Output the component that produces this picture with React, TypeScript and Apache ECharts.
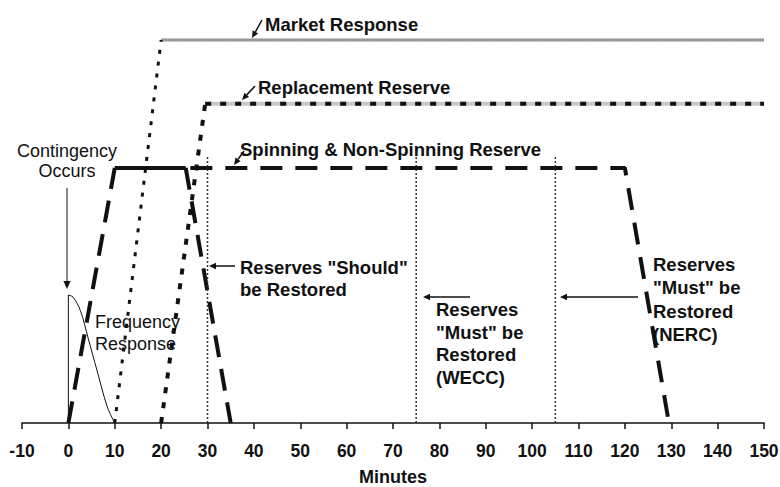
import React, { useEffect, useRef } from "react";
import * as echarts from "echarts";

// ---- data (minutes, relative level) ----
const xTicks = [-10, 0, 10, 20, 30, 40, 50, 60, 70, 80, 90, 100, 110, 120, 130, 140, 150];
const marketRise = [[10, 0], [20, 95.5]];
const marketPlateau = [[20, 95.5], [150, 95.5]];
const replacementRise = [[20, 0], [29.5, 79.6]];
const replacementPlateau = [[29.5, 79.6], [150, 79.6]];
const spinningRise = [[0, 0], [10, 63.6]];
const spinningSolid = [[10, 63.6], [25.3, 63.6]];
const spinningFall = [[25.3, 63.6], [35, 0]];
const spinningPlateau = [[26.3, 63.6], [120, 63.6], [129.5, 0]];
const freqVertical = [[0, 0], [0, 31.9]];
const freqCurve = [[0, 31.9], [1, 31.4], [2.6, 28], [4.3, 21], [6.2, 13], [8.4, 4], [10, 0]];
const restoreLines = [30, 75, 105];
const restoreTop = 66.8;

const BOLD = "bold 18.5px 'Liberation Sans', Arial, sans-serif";
const REG = "18px 'Liberation Sans', Arial, sans-serif";

function txt(x: number, y: number, text: string, font: string, align = "left") {
  return {
    type: "text",
    x,
    y,
    silent: true,
    style: { text, font, fill: "#111", textAlign: align, textVerticalAlign: "middle" },
  };
}

function arrow(x1: number, y1: number, x2: number, y2: number, w = 1.5, head = 7) {
  const dx = x2 - x1;
  const dy = y2 - y1;
  const len = Math.sqrt(dx * dx + dy * dy);
  const ux = dx / len;
  const uy = dy / len;
  const bx = x2 - ux * head;
  const by = y2 - uy * head;
  const px = -uy * head * 0.45;
  const py = ux * head * 0.45;
  return {
    type: "group",
    silent: true,
    children: [
      { type: "line", shape: { x1, y1, x2: bx, y2: by }, style: { stroke: "#111", lineWidth: w } },
      {
        type: "polygon",
        shape: { points: [[x2, y2], [bx + px, by + py], [bx - px, by - py]] },
        style: { fill: "#111" },
      },
    ],
  };
}

function lineSeries(data: number[][], color: string, width: number, type: any) {
  return {
    type: "line",
    data,
    symbol: "none",
    silent: true,
    lineStyle: { color, width, type, cap: "butt" },
  };
}

export default function App() {
  const ref = useRef<HTMLDivElement>(null);
  useEffect(() => {
    if (!ref.current) return;
    const chart = echarts.init(ref.current, undefined, { renderer: "svg" });
    const series: any[] = [
      lineSeries(marketPlateau, "#8e8e8e", 3, "solid"),
      lineSeries(marketPlateau, "#d0d0d0", 1, [1, 2]),
      lineSeries(marketRise, "#111", 3, [4, 8]),
      lineSeries(replacementPlateau, "#c8c8c8", 4, "solid"),
      lineSeries(replacementPlateau, "#111", 4, [6, 9]),
      lineSeries(replacementRise, "#111", 4, [6, 9]),
      lineSeries(spinningRise, "#111", 4, [22, 12]),
      lineSeries(spinningSolid, "#111", 4, "solid"),
      lineSeries(spinningFall, "#111", 4, [22, 12]),
      lineSeries(spinningPlateau, "#111", 4, [22, 13]),
      lineSeries(freqVertical, "#111", 1, "solid"),
      { ...lineSeries(freqCurve, "#111", 1, "solid"), smooth: 0.35 },
      ...restoreLines.map((x) =>
        lineSeries([[x, 0], [x, restoreTop]], "#333", 1.5, [2, 2])
      ),
    ];
    chart.setOption({
      animation: false,
      grid: { left: 22, right: 16, top: 22, bottom: 64, outerBoundsMode: "none", containLabel: false },
      xAxis: {
        type: "value",
        min: xTicks[0],
        max: xTicks[xTicks.length - 1],
        interval: 10,
        name: "Minutes",
        nameLocation: "middle",
        nameGap: 45,
        nameTextStyle: { fontFamily: "'Liberation Sans', Arial", fontWeight: "bold", fontSize: 18, color: "#111" },
        axisLine: { onZero: false, lineStyle: { color: "#111", width: 1.5 } },
        axisTick: { show: true, inside: false, length: 6, lineStyle: { color: "#111", width: 1.5 } },
        axisLabel: {
          margin: 19,
          fontFamily: "'Liberation Sans', Arial",
          fontWeight: "bold",
          fontSize: 17.5,
          color: "#111",
          showMinLabel: true,
          showMaxLabel: true,
        },
        splitLine: { show: false },
      },
      yAxis: {
        type: "value",
        min: 0,
        max: 100,
        show: false,
        splitLine: { show: false },
      },
      series,
      graphic: [
        txt(265, 24, "Market Response", BOLD),
        arrow(262, 20, 252, 38),
        txt(258, 87, "Replacement Reserve", BOLD),
        arrow(255, 86, 242, 100),
        txt(240, 149, "Spinning & Non-Spinning Reserve", BOLD),
        arrow(244, 151, 234, 165),
        txt(67, 151, "Contingency", REG, "center"),
        txt(67, 171, "Occurs", REG, "center"),
        arrow(67, 188, 67, 289, 1, 8),
        txt(95, 322, "Frequency", REG),
        txt(95, 344, "Response", REG),
        txt(240, 267, 'Reserves "Should"', BOLD),
        txt(240, 289, "be Restored", BOLD),
        arrow(235, 266, 209, 266),
        txt(436, 309, "Reserves", BOLD),
        txt(436, 332, '"Must" be', BOLD),
        txt(436, 354, "Restored", BOLD),
        txt(436, 377, "(WECC)", BOLD),
        arrow(470, 297, 423, 297),
        txt(653, 264, "Reserves", BOLD),
        txt(653, 287, '"Must" be', BOLD),
        txt(653, 311, "Restored", BOLD),
        txt(653, 334, "(NERC)", BOLD),
        arrow(638, 297, 560, 297),
      ],
    });
    return () => chart.dispose();
  }, []);
  return (
    <div
      ref={ref}
      style={{ position: "fixed", left: 0, top: 0, width: 780, height: 487, background: "#fff" }}
    />
  );
}
